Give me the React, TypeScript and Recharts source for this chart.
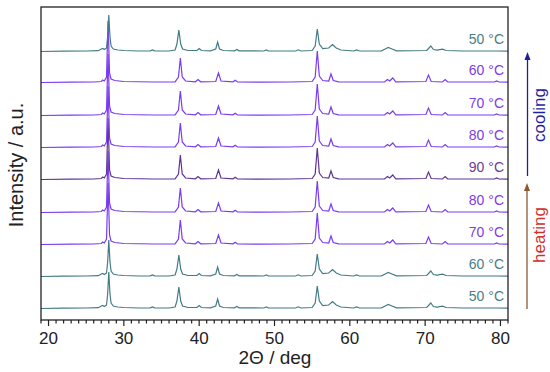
import React from "react";
import { LineChart, Line, XAxis, YAxis, ReferenceDot } from "recharts";

// Low-temperature phase profile (2θ, intensity)
const tealProfile: [number, number][] = [
  [19, 0.5], [22, 0.8], [25, 1], [26.6, 1.3], [27.0, 3], [27.2, 3.5], [27.4, 2.5], [27.7, 4],
  [27.85, 15], [28.0, 37], [28.15, 16], [28.3, 6], [28.6, 3], [29.2, 2], [30, 1.5], [32, 1],
  [33.5, 1.2], [33.8, 2], [34.1, 1.2], [36, 1], [36.8, 2], [37.05, 8], [37.3, 22], [37.55, 8],
  [37.8, 3], [38.5, 1.5], [39.7, 1.5], [40.0, 3.5], [40.3, 1.5], [41.5, 1.2], [42.2, 3],
  [42.45, 10], [42.7, 3], [43.2, 1.5], [44.7, 1.2], [45.0, 2.5], [45.3, 1.2], [48.6, 1],
  [48.9, 2], [49.2, 1], [52.8, 1], [53.15, 2.2], [53.5, 1], [55.0, 1.5], [55.4, 6], [55.68, 23],
  [55.95, 8], [56.4, 3.5], [57.2, 4], [57.7, 7.5], [58.2, 4], [58.8, 2], [60.5, 1], [60.9, 2],
  [61.3, 1], [64.2, 1.2], [64.7, 3], [65.1, 4.5], [65.6, 3], [66.2, 1.2], [70.2, 1.5],
  [70.45, 3.5], [70.75, 6], [71.1, 2.5], [71.6, 1.8], [72.3, 2.8], [72.8, 1.5], [75, 1],
  [79.5, 1], [81, 0.8],
];

// High-temperature phase profile (2θ, intensity)
const purpleProfile: [number, number][] = [
  [19, 0.5], [23, 0.8], [26, 1], [27.0, 1.5], [27.2, 3], [27.4, 2], [27.7, 6], [27.9, 62],
  [28.1, 10], [28.3, 4], [28.8, 2.5], [30, 1.5], [34, 1], [36.8, 1.2], [37.25, 6], [37.5, 25],
  [37.75, 6], [38.2, 2], [39.5, 1.2], [39.85, 3.5], [40.2, 1.2], [42.2, 1.5], [42.56, 10],
  [42.9, 2], [44.5, 1.2], [44.78, 2.8], [45.1, 1], [48, 0.8], [52, 1], [55.0, 1.5], [55.4, 6],
  [55.68, 32], [55.95, 7], [56.4, 2.5], [57.2, 2], [57.5, 9], [57.8, 2.5], [58.5, 1.2],
  [64.6, 1], [65.0, 3.5], [65.3, 2], [65.7, 5], [66.1, 1.2], [70.1, 1.5], [70.44, 8],
  [70.8, 1.5], [72.3, 1], [72.66, 3.5], [73.0, 1], [79.2, 1], [79.5, 2], [79.8, 1], [81, 0.8],
];

// Traces bottom to top
const traceLabels = ["50 °C", "60 °C", "70 °C", "80 °C", "90 °C", "80 °C", "70 °C", "60 °C", "50 °C"];
const tracePhase = ["low", "low", "high", "high", "high", "high", "high", "high", "low"];
const traceOffsets = [11, 43, 75, 107, 140, 172, 204, 237, 268];
const xTicks = [19, 20, 21, 22, 23, 24, 25, 26, 27, 28, 29, 30, 31, 32, 33, 34, 35, 36, 37, 38, 39, 40,
  41, 42, 43, 44, 45, 46, 47, 48, 49, 50, 51, 52, 53, 54, 55, 56, 57, 58, 59, 60, 61, 62, 63, 64,
  65, 66, 67, 68, 69, 70, 71, 72, 73, 74, 75, 76, 77, 78, 79, 80, 81];

const TEAL = "#437c86";
const PURPLE = "#7a3cf0";
const DARKPURPLE = "#5e3592";

const lineColor = (i: number) =>
  tracePhase[i] === "low" ? TEAL : i === 4 ? DARKPURPLE : PURPLE;
const labelColor = (i: number) =>
  tracePhase[i] === "low" ? "#4a7d87" : i === 4 ? "#6b3d98" : "#7d3ce6";

const series = traceOffsets.map((off, i) => {
  const prof = tracePhase[i] === "low" ? tealProfile : purpleProfile;
  return prof.map(([x, y]) => ({ x, y: y + off }));
});

const XTick = (props: any) => {
  const { x, y, payload } = props;
  const v = payload.value as number;
  const major = v % 10 === 0;
  return (
    <g>
      <line x1={x} x2={x} y1={y} y2={y + (major ? 6 : 3.5)} stroke="#222" strokeWidth={1.2} />
      {major && (
        <text x={x} y={y + 18} textAnchor="middle" dominantBaseline="central" fontSize={17} fill="#222">
          {v}
        </text>
      )}
    </g>
  );
};

export default function App() {
  const font = "'Liberation Sans', Arial, sans-serif";
  return (
    <div style={{ position: "absolute", left: 0, top: 0, width: 550, height: 372, fontFamily: font, background: "#fff" }}>
      <LineChart
        width={550}
        height={372}
        margin={{ top: 7, left: 41, right: 42, bottom: 22 }}
        style={{ fontFamily: font }}
      >
        <XAxis
          dataKey="x"
          type="number"
          domain={[19, 81]}
          ticks={xTicks}
          interval={0}
          allowDataOverflow
          height={30}
          tickSize={0}
          tickMargin={0}
          axisLine={false}
          tick={<XTick />}
        />
        <YAxis type="number" domain={[0, 313]} hide width={0} allowDataOverflow />
        {series.map((d, i) => (
          <Line
            key={i}
            data={d}
            dataKey="y"
            type="linear"
            stroke={lineColor(i)}
            strokeWidth={1.2}
            dot={false}
            isAnimationActive={false}
          />
        ))}
        {traceOffsets.map((off, i) => (
          <ReferenceDot
            key={"l" + i}
            x={81}
            y={off + 12.5}
            r={0}
            fill="none"
            stroke="none"
            label={{ value: traceLabels[i], position: "left", fill: labelColor(i), fontSize: 14, offset: 4 }}
          />
        ))}
      </LineChart>
      <svg width={550} height={372} style={{ position: "absolute", left: 0, top: 0, pointerEvents: "none" }}>
        <rect x={41} y={7} width={467} height={313} fill="none" stroke="#222" strokeWidth={1.3} />
        <text
          x={0}
          y={0}
          transform="translate(16,165) rotate(-90)"
          textAnchor="middle"
          dominantBaseline="central"
          fontSize={20}
          fill="#222"
          fontFamily={font}
        >
          Intensity / a.u.
        </text>
        <text x={275} y={357} textAnchor="middle" dominantBaseline="central" fontSize={19} fill="#222" fontFamily={font}>
          2Θ / deg
        </text>
        <line x1={527.5} x2={527.5} y1={176} y2={58} stroke="#1f1f9c" strokeWidth={1.3} />
        <polygon points="527.5,52 524.5,60 530.5,60" fill="#1f1f9c" />
        <text
          x={0}
          y={0}
          transform="translate(539,115) rotate(-90)"
          textAnchor="middle"
          dominantBaseline="central"
          fontSize={17}
          fill="#1e1ea0"
          fontFamily={font}
        >
          cooling
        </text>
        <line x1={527} x2={527} y1={309} y2={189} stroke="#8c5a2e" strokeWidth={1.3} />
        <polygon points="527,183 524,191 530,191" fill="#8c5a2e" />
        <text
          x={0}
          y={0}
          transform="translate(539,235) rotate(-90)"
          textAnchor="middle"
          dominantBaseline="central"
          fontSize={17}
          fill="#d0302a"
          fontFamily={font}
        >
          heating
        </text>
      </svg>
    </div>
  );
}
